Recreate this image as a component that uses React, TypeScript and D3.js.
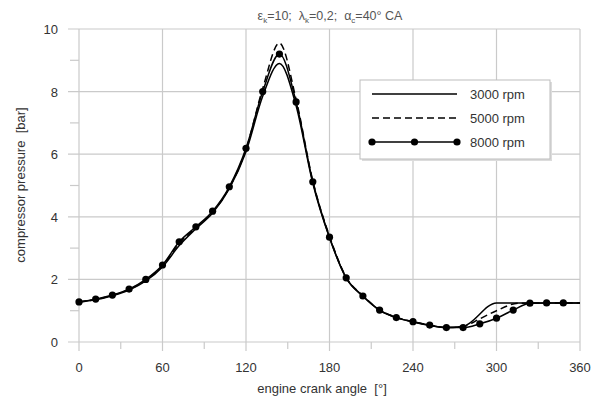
import React from "react";
import * as d3 from "d3";

const angles8000 = [0, 12, 24, 36, 48, 60, 72, 84, 96, 108, 120, 132, 144, 156, 168, 180, 192, 204, 216, 228, 240, 252, 264, 276, 288, 300, 312, 324, 336, 348, 360];
const p8000 = [1.28, 1.37, 1.5, 1.69, 2.0, 2.46, 3.2, 3.68, 4.18, 4.96, 6.19, 8.0, 9.2, 7.67, 5.12, 3.35, 2.05, 1.47, 1.02, 0.78, 0.65, 0.54, 0.46, 0.46, 0.58, 0.76, 1.02, 1.24, 1.25, 1.25, 1.25];

const angles3000 = [0, 12, 24, 36, 48, 60, 72, 84, 96, 108, 120, 132, 144, 156, 168, 180, 192, 204, 216, 228, 240, 252, 264, 276, 300, 312, 324, 336, 348, 360];
const p3000 = [1.28, 1.35, 1.48, 1.66, 1.95, 2.4, 3.08, 3.62, 4.12, 4.9, 6.08, 7.85, 8.9, 7.55, 5.07, 3.33, 2.04, 1.46, 1.01, 0.78, 0.64, 0.53, 0.46, 0.5, 1.25, 1.25, 1.25, 1.25, 1.25, 1.25];

const angles5000 = [0, 12, 24, 36, 48, 60, 72, 84, 96, 108, 120, 132, 144, 156, 168, 180, 192, 204, 216, 228, 240, 252, 264, 276, 288, 300, 316, 336, 348, 360];
const p5000 = [1.28, 1.36, 1.49, 1.68, 1.98, 2.43, 3.15, 3.66, 4.15, 4.93, 6.15, 8.1, 9.55, 7.75, 5.15, 3.38, 2.07, 1.48, 1.03, 0.79, 0.65, 0.54, 0.46, 0.5, 0.74, 1.0, 1.24, 1.25, 1.25, 1.25];

const xTicks = [0, 60, 120, 180, 240, 300, 360];
const xMinor = [30, 90, 150, 210, 270, 330];
const yTicks = [0, 2, 4, 6, 8, 10];
const yMinor = [1, 3, 5, 7, 9];
const legendLabels = ["3000 rpm", "5000 rpm", "8000 rpm"];

export default function App() {
  const W = 592, H = 403;
  const x = d3.scaleLinear().domain([0, 360]).range([79, 580]);
  const y = d3.scaleLinear().domain([0, 10]).range([342, 29]);
  const line = d3.line<[number, number]>().x(d => x(d[0])).y(d => y(d[1])).curve(d3.curveMonotoneX);
  const zip = (a: number[], b: number[]) => a.map((v, i) => [v, b[i]] as [number, number]);
  const grid = "#cacaca";
  const txt = "#333";
  const font = "'Liberation Sans', Arial, sans-serif";
  const lx0 = 372, lx1 = 457, ly = [94, 118, 142];
  const pre = { whiteSpace: "pre" as const };
  return (
    <svg width={W} height={H} style={{ position: "absolute", left: 0, top: 0, background: "#fff" }} fontFamily={font}>
      {xTicks.map(t => (
        <line key={"gx" + t} x1={x(t)} x2={x(t)} y1={y(10)} y2={y(0) + 9} stroke={grid} strokeWidth={1.2} />
      ))}
      {xMinor.map(t => (
        <line key={"mx" + t} x1={x(t)} x2={x(t)} y1={y(0)} y2={y(0) + 7} stroke={grid} strokeWidth={1.2} />
      ))}
      {yTicks.map(t => (
        <line key={"gy" + t} x1={x(0) - 11} x2={x(360)} y1={y(t)} y2={y(t)} stroke={grid} strokeWidth={1.2} />
      ))}
      {yMinor.map(t => (
        <line key={"my" + t} x1={x(0) - 9} x2={x(0)} y1={y(t)} y2={y(t)} stroke={grid} strokeWidth={1.2} />
      ))}
      {xTicks.map(t => (
        <text key={"tx" + t} x={x(t)} y={372} textAnchor="middle" fontSize={13} fill={txt}>{t}</text>
      ))}
      {yTicks.map(t => (
        <text key={"ty" + t} x={58} y={y(t) + 5} textAnchor="end" fontSize={13} fill={txt}>{t}</text>
      ))}
      <text x={322} y={393} textAnchor="middle" fontSize={13} fill={txt} style={pre}>engine crank angle  [°]</text>
      <text transform="translate(25,185) rotate(-90)" textAnchor="middle" fontSize={13} fill={txt} style={pre}>compressor pressure  [bar]</text>
      <text x={330} y={20} textAnchor="middle" fontSize={12.5} fill="#555" style={pre}>
        ε<tspan fontSize={8} dy={3}>k</tspan><tspan dy={-3}>=10;  λ</tspan><tspan fontSize={8} dy={3}>k</tspan><tspan dy={-3}>=0,2;  α</tspan><tspan fontSize={8} dy={3}>c</tspan><tspan dy={-3}>=40° CA</tspan>
      </text>
      <path d={line(zip(angles3000, p3000)) || ""} fill="none" stroke="#000" strokeWidth={1.5} />
      <path d={line(zip(angles5000, p5000)) || ""} fill="none" stroke="#000" strokeWidth={1.5} strokeDasharray="7,4" />
      <path d={line(zip(angles8000, p8000)) || ""} fill="none" stroke="#000" strokeWidth={1.5} />
      {angles8000.filter(a => a < 360).map((a, i) => (
        <circle key={"m" + a} cx={x(a)} cy={y(p8000[i])} r={3.6} fill="#000" />
      ))}
      <rect x={362} y={82} width={190} height={79} fill="#dcdcdc" />
      <rect x={360} y={80} width={190} height={79} fill="#fff" stroke="#bdbdbd" strokeWidth={1} />
      <line x1={lx0} x2={lx1} y1={ly[0]} y2={ly[0]} stroke="#000" strokeWidth={1.5} />
      <line x1={lx0} x2={lx1} y1={ly[1]} y2={ly[1]} stroke="#000" strokeWidth={1.5} strokeDasharray="7,4" />
      <line x1={lx0} x2={lx1} y1={ly[2]} y2={ly[2]} stroke="#000" strokeWidth={1.5} />
      {[lx0, (lx0 + lx1) / 2, lx1].map(cx => (
        <circle key={"lm" + cx} cx={cx} cy={ly[2]} r={3.6} fill="#000" />
      ))}
      {legendLabels.map((l, i) => (
        <text key={l} x={470} y={ly[i] + 5} fontSize={13} fill={txt}>{l}</text>
      ))}
    </svg>
  );
}
